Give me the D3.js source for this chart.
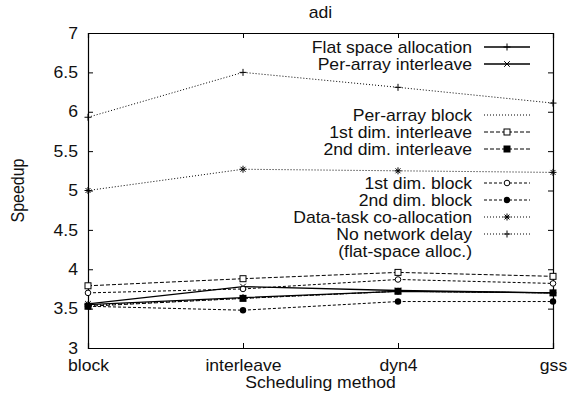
<!DOCTYPE html>
<html>
<head>
<meta charset="utf-8">
<script src="https://cdn.jsdelivr.net/npm/d3@7"></script>
<style>
  html, body { margin: 0; padding: 0; background: #fff; }
  svg { display: block; }
  text { font-family: "Liberation Sans", Arial, Helvetica, sans-serif; fill: #111; }
</style>
</head>
<body>
<svg id="chart" width="570" height="396"></svg>
<script>
// Scheduling methods along the x axis
const categories = ["block", "interleave", "dyn4", "gss"];
const yTicks = [3, 3.5, 4, 4.5, 5, 5.5, 6, 6.5, 7];

// Speedup per scheduling method, one array per data distribution
const flatSpace      = [3.55, 3.64, 3.72, 3.70];
const perArrayInter  = [3.56, 3.78, 3.73, 3.70];
const perArrayBlock  = [3.54, 3.63, 3.72, 3.70];
const dim1Inter      = [3.79, 3.88, 3.96, 3.91];
const dim2Inter      = [3.53, 3.63, 3.72, 3.70];
const dim1Block      = [3.70, 3.75, 3.87, 3.82];
const dim2Block      = [3.53, 3.48, 3.59, 3.59];
const dataTask       = [5.00, 5.27, 5.25, 5.23];
const noNetDelay     = [5.93, 6.50, 6.31, 6.11];

const seriesNames = [
  "Flat space allocation", "Per-array interleave", "Per-array block",
  "1st dim. interleave", "2nd dim. interleave", "1st dim. block",
  "2nd dim. block", "Data-task co-allocation", "No network delay"
];
const seriesValues = [flatSpace, perArrayInter, perArrayBlock, dim1Inter,
  dim2Inter, dim1Block, dim2Block, dataTask, noNetDelay];

// Line style and point type for each series (gnuplot-like monochrome)
const styles = [
  { dash: null,  mark: "plus" },
  { dash: null,  mark: "cross" },
  { dash: "1,2", mark: "none" },
  { dash: "4,2", mark: "square" },
  { dash: "4,2", mark: "fsquare" },
  { dash: "3,2", mark: "circle" },
  { dash: "3,2", mark: "fcircle" },
  { dash: "1,2", mark: "star" },
  { dash: "1,2", mark: "plus" }
];

const FS = 16;        // font size
const SX = 1.1;       // horizontal text stretch
const margin = { left: 88, right: 17, top: 33, bottom: 48 };
const W = 570, H = 396;
const svg = d3.select("#chart");

const x = d3.scalePoint().domain(categories).range([margin.left, W - margin.right]);
const y = d3.scaleLinear().domain([3, 7]).range([H - margin.bottom, margin.top]);

function stretchText(sel) {
  sel.each(function () {
    const t = d3.select(this);
    const tx = +t.attr("x") || 0;
    t.attr("x", tx / SX).attr("transform", `scale(${SX},1)`);
  });
}

// Axes with inward ticks
const gL = svg.append("g").attr("transform", `translate(${margin.left},0)`)
  .call(d3.axisLeft(y).tickValues(yTicks).tickSize(-5).tickPadding(10)
    .tickFormat(d => d3.format("")(d)));
const gB = svg.append("g").attr("transform", `translate(0,${H - margin.bottom})`)
  .call(d3.axisBottom(x).tickSize(-5).tickPadding(12));
const gR = svg.append("g").attr("transform", `translate(${W - margin.right},0)`)
  .call(d3.axisRight(y).tickValues(yTicks).tickSize(-5).tickFormat(""));
const gT = svg.append("g").attr("transform", `translate(0,${margin.top})`)
  .call(d3.axisTop(x).tickSize(-5).tickFormat(""));

[gL, gB, gR, gT].forEach(g => {
  g.selectAll("path.domain").attr("stroke", "#000").attr("stroke-width", 1.2);
  g.selectAll(".tick line").attr("stroke", "#000");
  g.selectAll("text").attr("font-size", FS).attr("font-family", null).attr("fill", "#111");
});
gL.selectAll("text").call(stretchText);
gB.selectAll("text").call(stretchText);

// Marker shapes
function markerPath(type, s) {
  switch (type) {
    case "plus": return `M${-s},0H${s}M0,${-s}V${s}`;
    case "cross": return `M${-s*0.8},${-s*0.8}L${s*0.8},${s*0.8}M${-s*0.8},${s*0.8}L${s*0.8},${-s*0.8}`;
    case "star": return `M${-s},0H${s}M0,${-s}V${s}M${-s*0.7},${-s*0.7}L${s*0.7},${s*0.7}M${-s*0.7},${s*0.7}L${s*0.7},${-s*0.7}`;
    default: return "";
  }
}
function drawMarker(g, type, cx, cy) {
  if (type === "none") return;
  if (type === "square") {
    g.append("rect").attr("x", cx - 3).attr("y", cy - 3).attr("width", 6).attr("height", 6)
      .attr("fill", "#fff").attr("stroke", "#000").attr("stroke-width", 1);
  } else if (type === "fsquare") {
    g.append("rect").attr("x", cx - 3.5).attr("y", cy - 3.5).attr("width", 7).attr("height", 7)
      .attr("fill", "#000");
  } else if (type === "circle") {
    g.append("circle").attr("cx", cx).attr("cy", cy).attr("r", 2.8)
      .attr("fill", "#fff").attr("stroke", "#000").attr("stroke-width", 1);
  } else if (type === "fcircle") {
    g.append("circle").attr("cx", cx).attr("cy", cy).attr("r", 3.2).attr("fill", "#000");
  } else {
    g.append("path").attr("d", markerPath(type, 3.5)).attr("transform", `translate(${cx},${cy})`)
      .attr("stroke", "#000").attr("stroke-width", 1).attr("fill", "none");
  }
}

const line = d3.line().x((d, i) => x(categories[i])).y(d => y(d));

// Legend rows (row index in a 17px grid starting at y=47)
const legendRow = [0, 1, 4, 5, 6, 8, 9, 10, 11];
const legTextX = 472, legLine0 = 484, legLine1 = 530;
const rowY = r => 47 + 17 * r;

seriesValues.forEach((vals, k) => {
  const st = styles[k];
  const g = svg.append("g");
  g.append("path").datum(vals).attr("d", line)
    .attr("fill", "none").attr("stroke", "#000").attr("stroke-width", st.dash ? 1 : 1.3)
    .attr("stroke-dasharray", st.dash);
  vals.forEach((v, i) => drawMarker(g, st.mark, x(categories[i]), y(v)));

  // legend entry
  const ly = rowY(legendRow[k]);
  svg.append("text").attr("font-size", FS).attr("text-anchor", "end")
    .attr("x", legTextX / SX).attr("y", ly).attr("dy", "0.35em")
    .attr("transform", `scale(${SX},1)`).text(seriesNames[k]);
  const lg = svg.append("g");
  lg.append("line").attr("x1", legLine0).attr("x2", legLine1).attr("y1", ly).attr("y2", ly)
    .attr("stroke", "#000").attr("stroke-width", st.dash ? 1 : 1.3).attr("stroke-dasharray", st.dash);
  drawMarker(lg, st.mark, (legLine0 + legLine1) / 2, ly);
});
svg.append("text").attr("font-size", FS).attr("text-anchor", "end")
  .attr("x", legTextX / SX).attr("y", rowY(12)).attr("dy", "0.35em")
  .attr("transform", `scale(${SX},1)`).text("(flat-space alloc.)");

// Title and axis titles
svg.append("text").attr("font-size", FS).attr("text-anchor", "middle")
  .attr("transform", `translate(${(margin.left + W - margin.right) / 2},18) scale(${SX},1)`)
  .text("adi");
svg.append("text").attr("font-size", FS).attr("text-anchor", "middle")
  .attr("transform", `translate(${(margin.left + W - margin.right) / 2},388) scale(${SX},1)`)
  .text("Scheduling method");
svg.append("text").attr("font-size", FS).attr("text-anchor", "middle")
  .attr("transform", `translate(18,${(margin.top + H - margin.bottom) / 2}) scale(${SX},1) rotate(-90)`)
  .attr("dy", "0.35em")
  .text("Speedup");
</script>
</body>
</html>
